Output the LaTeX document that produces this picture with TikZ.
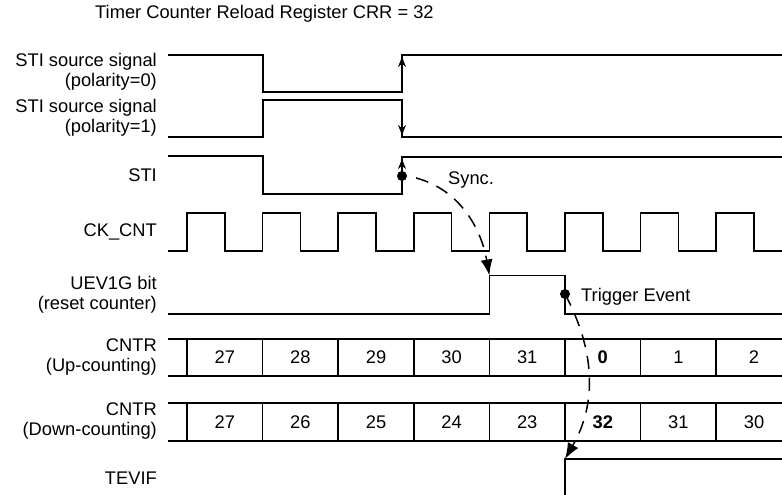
\documentclass[tikz,border=0pt]{standalone}
\usepackage{fontspec}
\setmainfont{Liberation Sans}
\usetikzlibrary{arrows.meta}

\begin{document}
\begin{tikzpicture}[
            x=1pt, y=-1pt,
            font=\fontsize{18.3}{20}\selectfont,
            % styles
            wave/.style={line width=1.7pt, line join=miter},
            siglabel/.style={anchor=east, align=right, inner sep=0pt},
            cellval/.style={inner sep=0pt},
            edgemark/.style={line width=1.7pt, -{Stealth[length=10pt, width=8pt]}},
            eventline/.style={line width=1.5pt, dash pattern=on 13pt off 9pt, -{Latex[length=16pt, width=12pt]}},
            dot/.style={circle, fill=black, inner sep=0pt, minimum size=10pt}
        ]
        \useasboundingbox (0,0) rectangle (782,495);

        % title
        \node (title) [anchor=west, inner sep=0pt] at (95,14) {Timer Counter Reload Register CRR = 32};

        % signal names
        \node (lpol0) [siglabel] at (157,72)  {STI source signal\\(polarity=0)};
        \node (lpol1) [siglabel] at (157,118) {STI source signal\\(polarity=1)};
        \node (lsti)  [siglabel] at (157,175) {STI};
        \node (lclk)  [siglabel] at (157,232) {CK\_CNT};
        \node (luev)  [siglabel] at (157,295) {UEV1G bit\\(reset counter)};
        \node (lup)   [siglabel] at (157,357) {CNTR\\(Up-counting)};
        \node (ldown) [siglabel] at (157,421) {CNTR\\(Down-counting)};
        \node (ltev)  [siglabel] at (157,478) {TEVIF};

        % source signals and STI
        \draw [wave] (168,55) -- (263,55) -- (263,92) -- (402,92) -- (402,55) -- (782,55);
        \draw [edgemark] (402,92) -- (402,57);
        \draw [wave] (168,137) -- (263,137) -- (263,100) -- (402,100) -- (402,137) -- (782,137);
        \draw [edgemark] (402,100) -- (402,135);
        \draw [wave] (168,156) -- (263,156) -- (263,194) -- (402,194) -- (402,157) -- (782,157);
        \draw [edgemark] (402,194) -- (402,159);

        % clock
        \draw [wave] (168,251) foreach \k in {0,...,7} {
            -- ({187+75.6*\k},251) -- ({187+75.6*\k},213)
            -- ({224.8+75.6*\k},213) -- ({224.8+75.6*\k},251)} -- (782,251);

        % UEV1G bit
        \draw [wave] (168,314) -- (489.4,314) -- (489.4,275.5) -- (565,275.5) -- (565,314) -- (782,314);
        \coordinate (uevrise) at (489.4,275.5);

        % counters
        \draw [wave] (168,339) -- (782,339);
        \draw [wave] (168,376) -- (782,376);
        \draw [wave] (168,403) -- (782,403);
        \draw [wave] (168,441) -- (782,441);
        \foreach \k in {0,...,7} {
            \draw [wave] ({187+75.6*\k},339) -- ({187+75.6*\k},376);
            \draw [wave] ({187+75.6*\k},403) -- ({187+75.6*\k},441);
        }
        \foreach \v [count=\k from 0] in {27,28,29,30,31,\textbf{0},1,2}
            \node (up\k) [cellval] at ({224.8+75.6*\k},357.5) {\v};
        \foreach \v [count=\k from 0] in {27,26,25,24,23,\textbf{32},31,30}
            \node (down\k) [cellval] at ({224.8+75.6*\k},422) {\v};

        % TEVIF
        \draw [wave] (565,496) -- (565,459) -- (782,459);
        \coordinate (tevrise) at (565,459);

        % sync and trigger events
        \node (syncdot) [dot] at (402,176) {};
        \node (trigdot) [dot] at (565,294) {};
        \draw [eventline, dash phase=13pt] (syncdot.east) to[out=-10, in=100] (uevrise);
        \node (sync) [anchor=west, inner sep=0pt] at (448,180) {Sync.};
        \draw [eventline] (trigdot.center) to[out=-62, in=60] (tevrise);
        \node (trig) [anchor=west, inner sep=0pt] at (581,297) {Trigger Event};

        \end{tikzpicture}
\end{document}
